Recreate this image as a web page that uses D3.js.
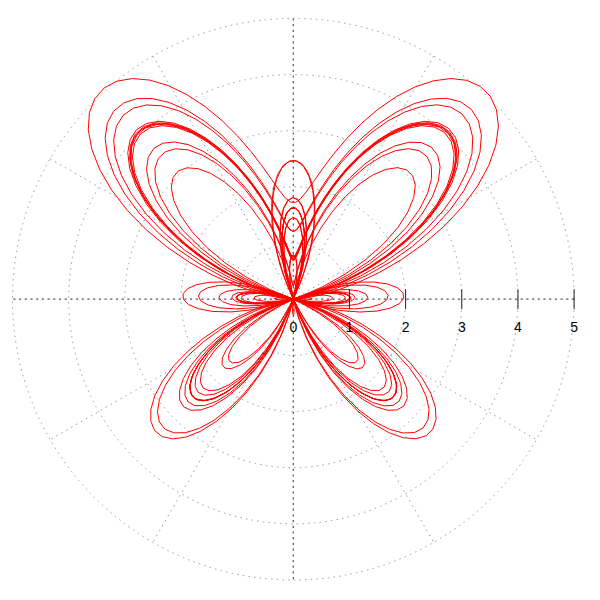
<!DOCTYPE html>
<html>
<head>
<meta charset="utf-8">
<script src="https://cdn.jsdelivr.net/npm/d3@7"></script>
<style>
  html, body { margin: 0; padding: 0; background: #fff; }
  svg { display: block; }
</style>
</head>
<body>
<svg id="chart" width="600" height="600"></svg>
<script>
// ---- data ----
const radialTicks = [1, 2, 3, 4, 5];
const radialLabels = ["0", "1", "2", "3", "4", "5"];
const spokeAngles = [0, 30, 60, 90, 120, 150];   // degrees (diameters)
const rMax = 5;
// butterfly curve parameters: r = exp(sin t) - 2 cos(4 t) + sin^5((2 t - pi)/24)
const thetaStart = 0;
const thetaEnd = 24 * Math.PI;
const thetaStep = 0.05;

// ---- layout ----
const cx = 293.3, cy = 299.2, R = 280.8;
const svg = d3.select("#chart");
const g = svg.append("g").attr("transform", `translate(${cx},${cy})`);
const rScale = d3.scaleLinear().domain([0, rMax]).range([0, R]);

// grid circles
g.selectAll("circle.grid").data(radialTicks).enter().append("circle")
  .attr("r", d => rScale(d)).attr("fill", "none")
  .attr("stroke", "#9a9a9a").attr("stroke-width", 1)
  .attr("stroke-dasharray", "1.5,4.2");

// spokes
g.selectAll("line.spoke").data(spokeAngles.filter(a => a % 90 !== 0)).enter().append("line")
  .attr("x1", d => rScale(rMax) * Math.cos(d * Math.PI / 180))
  .attr("y1", d => -rScale(rMax) * Math.sin(d * Math.PI / 180))
  .attr("x2", d => -rScale(rMax) * Math.cos(d * Math.PI / 180))
  .attr("y2", d => rScale(rMax) * Math.sin(d * Math.PI / 180))
  .attr("stroke", "#9a9a9a").attr("stroke-width", 1)
  .attr("stroke-dasharray", "1.5,4.2");

// main axes (0 and 90 deg) darker
g.selectAll("line.axis").data(spokeAngles.filter(a => a % 90 === 0)).enter().append("line")
  .attr("x1", d => rScale(rMax) * Math.cos(d * Math.PI / 180))
  .attr("y1", d => -rScale(rMax) * Math.sin(d * Math.PI / 180))
  .attr("x2", d => -rScale(rMax) * Math.cos(d * Math.PI / 180))
  .attr("y2", d => rScale(rMax) * Math.sin(d * Math.PI / 180))
  .attr("stroke", "#555").attr("stroke-width", 1.2)
  .attr("stroke-dasharray", "2.2,3.5");

// butterfly curve
const thetas = d3.range(thetaStart, thetaEnd + 1e-9, thetaStep);
const butterfly = t => Math.exp(Math.sin(t)) - 2 * Math.cos(4 * t) + Math.pow(Math.sin((2 * t - Math.PI) / 24), 5);
const line = d3.lineRadial()
  .angle(t => Math.PI / 2 - t)
  .radius(t => rScale(butterfly(t)));
// lineRadial uses angle measured clockwise from 12 o'clock; negative radii flip through center
g.append("path").datum(thetas)
  .attr("d", d3.line()
     .x(t => rScale(butterfly(t)) * Math.cos(t))
     .y(t => -rScale(butterfly(t)) * Math.sin(t)))
  .attr("fill", "none").attr("stroke", "#ff0000").attr("stroke-width", 1)
  .attr("stroke-linejoin", "round");

// ticks along positive x axis
g.selectAll("line.tick").data(radialTicks).enter().append("line")
  .attr("x1", d => rScale(d)).attr("x2", d => rScale(d))
  .attr("y1", -10).attr("y2", 10)
  .attr("stroke", "#222").attr("stroke-width", 1);

g.selectAll("text.lab").data(radialLabels).enter().append("text")
  .attr("x", (d, i) => rScale(i)).attr("y", 33)
  .attr("text-anchor", "middle")
  .attr("font-family", "Liberation Sans, Arial, sans-serif")
  .attr("font-size", 14).attr("fill", "#000")
  .text(d => d);
</script>
</body>
</html>
